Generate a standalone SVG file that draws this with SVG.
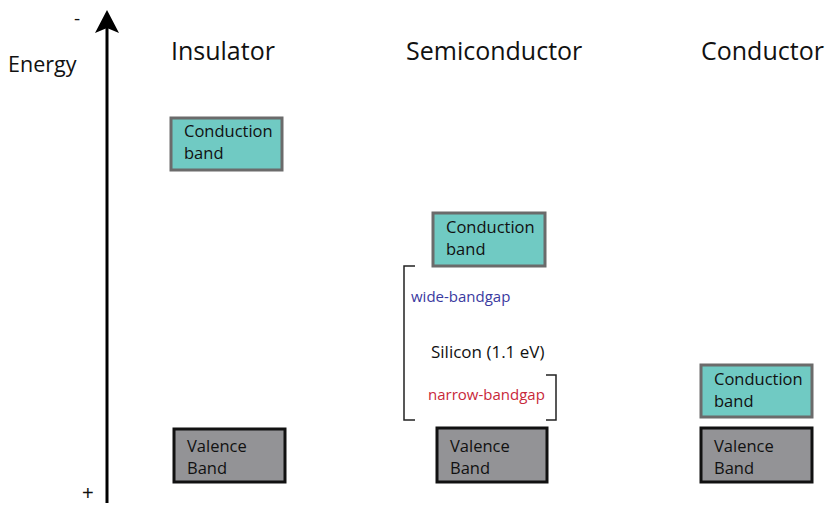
<svg xmlns="http://www.w3.org/2000/svg" width="827" height="505" viewBox="0 0 827 505">
<style>
text{font-family:"Open Sans","Liberation Sans",sans-serif;fill:#111}
.title{font-size:25px}
.lbl{font-size:16.5px}
.cb{fill:#70cac3;stroke:#6b6b6b;stroke-width:3}
.vb{fill:#939396;stroke:#111;stroke-width:3}
.br{fill:none;stroke:#222;stroke-width:1.5}
</style>
<g id="axis">
<line x1="107" y1="503" x2="107" y2="28" stroke="#000" stroke-width="3"/>
<path d="M107,10 L119,33 L107,28 L95,33 Z" fill="#000"/>
<text x="74" y="25" font-size="19">-</text>
<text x="82" y="500" font-size="20" style="font-family:'Liberation Sans',sans-serif">+</text>
<text x="8" y="72" font-size="21.5">Energy</text>
</g>
<g id="titles">
<text class="title" x="171" y="60">Insulator</text>
<text class="title" x="406" y="60">Semiconductor</text>
<text class="title" x="701" y="60">Conductor</text>
</g>
<g id="ins-cb"><rect class="cb" x="171" y="118" width="111" height="52"/><text class="lbl" x="184" y="137">Conduction</text><text class="lbl" x="184" y="159">band</text></g>
<g id="semi-cb"><rect class="cb" x="433" y="213" width="112" height="53"/><text class="lbl" x="446" y="233">Conduction</text><text class="lbl" x="446" y="255">band</text></g>
<g id="cond-cb"><rect class="cb" x="701" y="365" width="111" height="52"/><text class="lbl" x="714" y="385">Conduction</text><text class="lbl" x="714" y="407">band</text></g>
<g id="ins-vb"><rect class="vb" x="174" y="429" width="111" height="53"/><text class="lbl" x="187" y="452">Valence</text><text class="lbl" x="187" y="474">Band</text></g>
<g id="semi-vb"><rect class="vb" x="437" y="428" width="110" height="54"/><text class="lbl" x="450" y="452">Valence</text><text class="lbl" x="450" y="474">Band</text></g>
<g id="cond-vb"><rect class="vb" x="701" y="428" width="111" height="54"/><text class="lbl" x="714" y="452">Valence</text><text class="lbl" x="714" y="474">Band</text></g>
<g id="gap">
<path class="br" d="M415,266 H404 V420 H415"/>
<path class="br" d="M546,375 H556 V420 H546"/>
<text x="411" y="302" font-size="15" style="fill:#3a3aa0">wide-bandgap</text>
<text x="431" y="358" font-size="17">Silicon (1.1 eV)</text>
<text x="428" y="400" font-size="15" style="fill:#c8283a">narrow-bandgap</text>
</g>
</svg>
